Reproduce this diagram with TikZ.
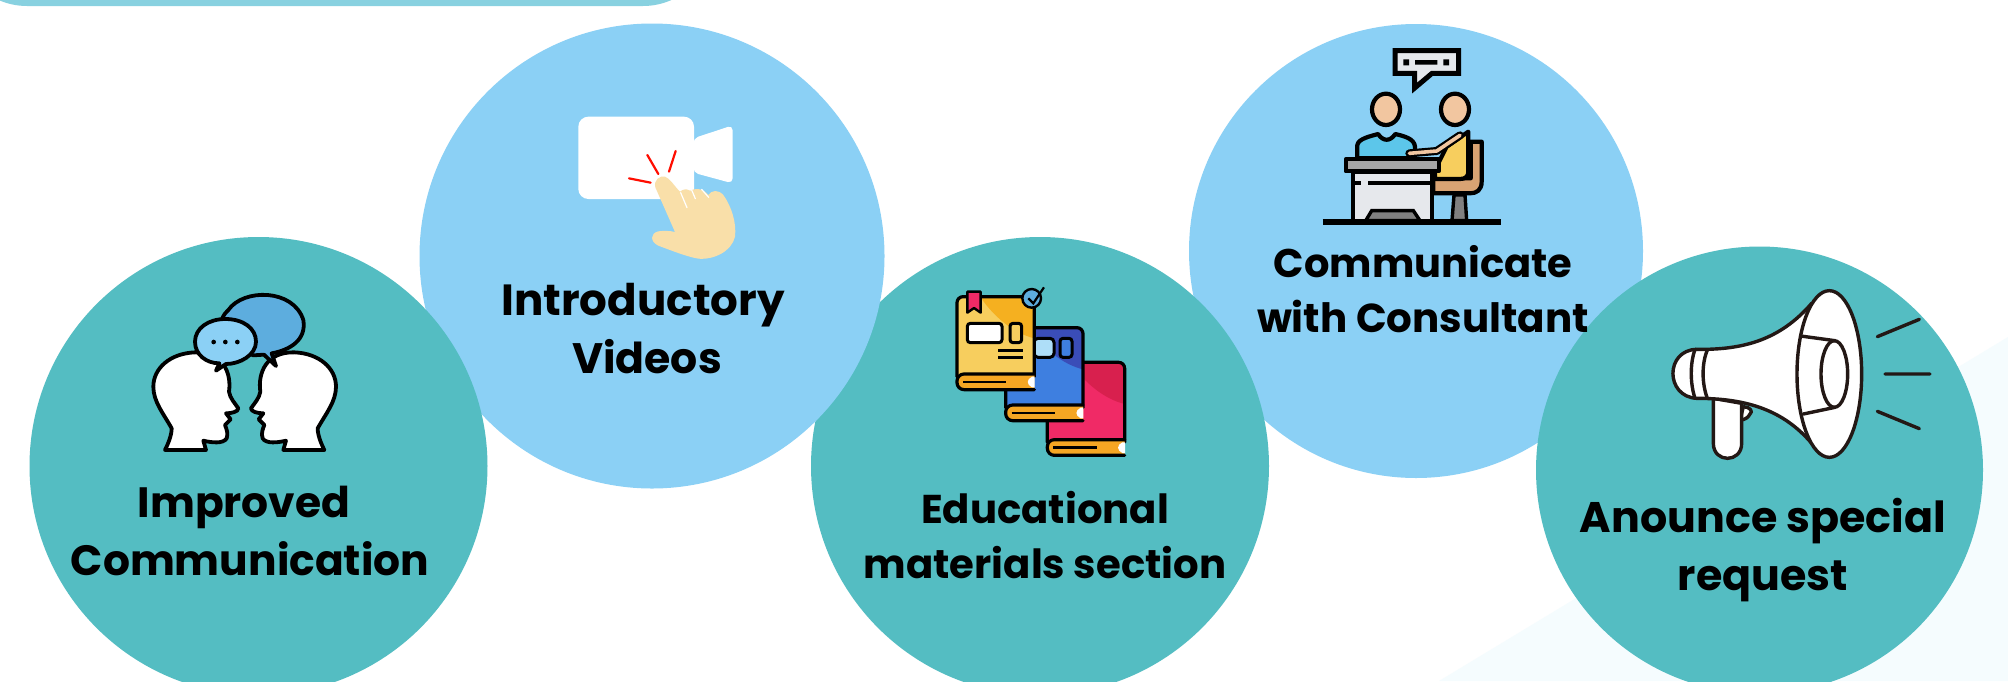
\documentclass[tikz,border=0pt]{standalone}
\usepackage{fontspec}
\setmainfont{Poppins}[BoldFont=* Bold]
\definecolor{teal1}{HTML}{54BDC2}
\definecolor{sky1}{HTML}{8BD0F5}
\definecolor{bar1}{HTML}{88D1E0}
\definecolor{pale1}{HTML}{F5FCFE}
\definecolor{ink1}{HTML}{231815}
\definecolor{hand1}{HTML}{F9DFA9}
\definecolor{bub1}{HTML}{5DADDE}
\definecolor{skin1}{HTML}{F2C6A0}
\definecolor{oran1}{HTML}{F5A623}
\definecolor{yel1}{HTML}{F7CE5E}
\definecolor{yel2}{HTML}{F5B020}
\definecolor{blu1}{HTML}{3E7FE0}
\definecolor{blu2}{HTML}{3A4DB8}
\definecolor{red1}{HTML}{F02A66}
\definecolor{red2}{HTML}{D8204E}
\definecolor{shirt1}{HTML}{5CC6EA}
\definecolor{desk1}{HTML}{E6E8EC}
\definecolor{chair1}{HTML}{D9A373}
\tikzset{
 disc/.style={circle,inner sep=0pt,minimum size=#1},
 tealdisc/.style={disc=#1,fill=teal1},
 skydisc/.style={disc=#1,fill=sky1},
 lab/.style={inner sep=0pt,font=\fontsize{#1}{#1}\selectfont\bfseries,text=black,anchor=base},
 zoomed/.style={shift={#1},x=0.33333pt,y=-0.33333pt},
 blk/.style={draw=black,line width=3.8pt,line join=round,line cap=round},
 bold/.style={draw=black,line width=4.2pt,line join=round,line cap=round},
 bookline/.style={draw=black,line width=3.2pt,line join=round,line cap=round},
 meg/.style={draw=ink1,line width=3.4pt,line join=round,line cap=round}
}
\newcommand{\headshape}{%
 (135,540) -- (258,540) -- (250,512) .. controls (275,518) and (310,522) .. (320,505)
 .. controls (325,490) and (320,478) .. (315,465) -- (332,448) -- (318,430)
 .. controls (335,430) and (355,425) .. (355,415) .. controls (345,400) and (330,385) .. (327,365)
 .. controls (335,310) and (310,245) .. (225,247) .. controls (150,250) and (100,295) .. (100,350)
 .. controls (100,395) and (130,430) .. (155,475) .. controls (155,495) and (145,520) .. (135,540) -- cycle}
\newcommand{\bookicon}[4]{%
 \begin{scope}[shift={(#1,#2)}]
  \fill[#3,rounded corners=5pt] (0,0) rectangle (232,240);
  \fill[#4] (70,1) -- (228,1) -- (232,125) .. controls (170,110) and (110,60) .. (70,1) -- cycle;
  \draw[bookline,rounded corners=6pt] (0,240) -- (0,0) -- (232,0) -- (232,240);
  \filldraw[bookline,fill=oran1,rounded corners=7pt] (232,232) -- (0,232) -- (0,279) -- (232,279);
  \draw[draw=black,line width=2.4pt] (18,256) -- (148,256);
  \fill[white] (225,240) .. controls (208,248) and (208,264) .. (225,272) -- (233,272) -- (233,240) -- cycle;
 \end{scope}}
\begin{document}
\begin{tikzpicture}[x=1pt,y=-1pt]
\useasboundingbox (0,0) rectangle (2008,681);
\fill[white] (0,0) rectangle (2008,681);
\clip (0,0) rectangle (2008,681);
% pale background wedge
\fill[pale1] (1439,681) -- (2008,337) -- (2008,681) -- cycle;
% top bar
\fill[bar1,rounded corners=70pt] (-43,-200) rectangle (713,6);
% discs
\node[skydisc=454pt] (d4) at (1416,251) {};
\node[tealdisc=458pt] (d3) at (1040,466) {};
\node[skydisc=465pt] (d2) at (652,256) {};
\node[tealdisc=458pt] (d1) at (258.5,466) {};
\node[tealdisc=447pt] (d5) at (1759.5,470) {};
% heads icon
\begin{scope}[zoomed={(120,270)}]
 \filldraw[blk,fill=white] \headshape;
 \begin{scope}[xshift=748*0.33333pt,x=-0.33333pt]
  \filldraw[blk,fill=white] \headshape;
 \end{scope}
 \filldraw[blk,fill=bub1] (400,256) .. controls (330,230) and (270,170) .. (325,120) .. controls (370,55) and (520,55) .. (550,150) .. controls (560,210) and (510,240) .. (455,250) -- (468,288) -- (432,254) -- cycle;
 \filldraw[blk,fill=sky1] (316,147) .. controls (370,147) and (408,175) .. (408,215) .. controls (408,255) and (360,282) .. (318,282) -- (288,302) -- (298,280) .. controls (260,280) and (225,255) .. (225,215) .. controls (225,175) and (265,147) .. (316,147) -- cycle;
 \fill[black] (281,216) circle[radius=7] (316,216) circle[radius=7] (352,216) circle[radius=7];
\end{scope}
% video icon
\begin{scope}[zoomed={(560,100)}]
 \fill[white,rounded corners=10pt] (55,50) rectangle (402,297);
 \fill[white,rounded corners=5pt] (400,115) -- (518,76) -- (518,250) -- (400,218) -- cycle;
 \draw[red!90!orange,line width=2.2pt,line cap=round] (262,165) -- (295,222) (347,153) -- (327,215) (207,235) -- (272,248);
 \fill[hand1] (286,262) .. controls (280,240) and (300,226) .. (315,230) .. controls (330,235) and (340,255) .. (360,275)
   .. controls (368,268) and (380,265) .. (390,272) .. controls (405,265) and (425,262) .. (445,285)
   .. controls (455,270) and (475,268) .. (490,285) .. controls (515,320) and (530,370) .. (525,410)
   .. controls (515,455) and (460,480) .. (415,476) .. controls (380,470) and (330,450) .. (295,437)
   .. controls (270,425) and (270,400) .. (295,394) .. controls (310,392) and (330,392) .. (345,396) -- cycle;
 \draw[white,line width=1.2pt,line cap=round] (362,278) -- (381,323) (395,270) -- (406,296) (425,268) -- (446,292);
\end{scope}
% books
\begin{scope}[zoomed={(930,270)}]
 \bookicon{352}{277}{red1}{red2}
 \bookicon{227}{173}{blu1}{blu2}
 \draw[black,line width=3pt,fill=sky1!70!white,rounded corners=4pt] (312,205) rectangle (372,262);
 \draw[black,line width=3pt,fill=blu1,rounded corners=3pt] (390,205) rectangle (426,262);
 \bookicon{81}{80}{yel1}{yel2}
 \draw[black,line width=3pt,fill=white,rounded corners=3pt] (112,160) rectangle (216,218);
 \draw[black,line width=3pt,fill=yel1,rounded corners=3pt] (240,160) rectangle (275,218);
 \draw[black,line width=2.4pt] (205,242) -- (280,242) (205,262) -- (280,262);
 \filldraw[fill=red1,draw=black,line width=2.4pt,line join=round] (112,65) -- (152,65) -- (152,128) -- (132,114) -- (112,128) -- cycle;
 \filldraw[fill=bub1,draw=black,line width=2.4pt] (305,85) circle[radius=28];
 \draw[black,line width=2.2pt] (295,85) -- (310,100) -- (342,52);
\end{scope}
% consultant
\begin{scope}[zoomed={(1300,30)}]
 \filldraw[fill=desk1,draw=black,line width=5pt,line join=miter] (285,62) -- (476,62) -- (476,130) -- (396,130) -- (344,174) -- (344,130) -- (285,130) -- cycle;
 \fill[black] (310,88) rectangle (327,106) (430,88) rectangle (447,106) (345,90) rectangle (412,104);
 % chair
 \filldraw[bold,fill=chair1] (512,335) -- (545,335) -- (545,455) .. controls (545,480) and (530,490) .. (510,490) -- (400,490) -- (400,445) -- (512,445) -- cycle;
 \filldraw[fill=gray,draw=black,line width=3.4pt] (462,495) -- (456,572) -- (500,572) -- (495,495) -- cycle;
 % right person
 \filldraw[bold,fill=yel1] (505,305) -- (505,425) .. controls (505,440) and (495,447) .. (480,447) -- (405,447) -- (405,420) -- (440,350) -- cycle;
 % left body
 \filldraw[bold,fill=shirt1] (172,385) -- (172,345) .. controls (175,325) and (215,318) .. (234,312) .. controls (250,335) and (270,335) .. (286,312) .. controls (310,318) and (343,325) .. (345,350) -- (345,385) -- cycle;
 % heads
 \filldraw[bold,fill=skin1] (258,238) ellipse[x radius=42,y radius=47];
 \filldraw[bold,fill=skin1] (465,238) ellipse[x radius=42,y radius=47];
 % arm
 \draw[black,line width=8pt,line cap=round,line join=round] (328,370) -- (410,363) -- (480,316);
 \draw[skin1,line width=3.6pt,line cap=round,line join=round] (328,370) -- (410,363) -- (480,316);
 % desk
 \filldraw[fill=desk1,draw=black,line width=4.2pt] (158,425) rectangle (396,572);
 \draw[black,line width=4pt] (160,458) -- (182,458) (205,458) -- (396,458);
 \filldraw[fill=gray,draw=black,line width=3.4pt] (197,572) -- (215,542) -- (340,542) -- (360,572) -- cycle;
 \filldraw[fill=gray!70!white,draw=black,line width=4.2pt,line join=round] (137,388) rectangle (416,424);
 \draw[black,line width=6pt] (68,575) -- (603,575);
\end{scope}
% megaphone
\begin{scope}[zoomed={(1650,270)}]
 \filldraw[meg,fill=white] (280,410) .. controls (300,410) and (310,425) .. (300,432) .. controls (295,442) and (285,450) .. (270,450) -- cycle;
 \filldraw[meg,fill=white] (190,385) -- (190,520) .. controls (190,580) and (275,580) .. (275,520) -- (275,400) -- cycle;
 \filldraw[meg,fill=white] (140,238) .. controls (280,240) and (390,210) .. (485,100) -- (485,520) .. controls (400,420) and (290,385) .. (140,385) .. controls (45,380) and (45,240) .. (140,238) -- cycle;
 \draw[meg] (135,238) .. controls (120,280) and (120,340) .. (135,385) (172,240) .. controls (155,280) and (155,340) .. (172,385);
 \filldraw[meg,fill=white] (538,312) ellipse[x radius=97,y radius=250];
 \draw[meg] (452,198) -- (555,212) (460,432) -- (555,412);
 \draw[meg] (553,312) ellipse[x radius=40,y radius=100];
 \draw[meg] (682,200) -- (808,148) (705,312) -- (840,312) (682,424) -- (808,476);
\end{scope}
% labels
\node[lab=42.4] (t1a) at (244,517) {Improved};
\node[lab=42.4] (t1b) at (250,575) {Communication};
\node[lab=43.6] (t2a) at (643,315) {Introductory};
\node[lab=42.6] (t2b) at (647,373) {Videos};
\node[lab=40.2] (t3a) at (1045,523) {Educational};
\node[lab=40.2] (t3b) at (1045,578) {materials section};
\node[lab=40] (t4a) at (1423,277) {Communicate};
\node[lab=40.4] (t4b) at (1423,332) {with Consultant};
\node[lab=42.8] (t5a) at (1763,532) {Anounce special};
\node[lab=42.8] (t5b) at (1763,590) {request};
\end{tikzpicture}
\end{document}
